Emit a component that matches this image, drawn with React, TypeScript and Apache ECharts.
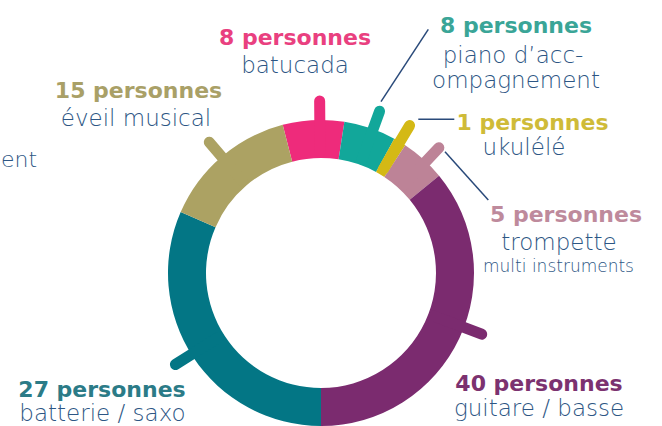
import React, { useEffect, useRef } from "react";
import * as echarts from "echarts";

// ---- data ----
const categories = [
  "batucada",
  "piano d’accompagnement",
  "ukulélé",
  "trompette",
  "guitare / basse",
  "batterie / saxo",
  "éveil musical",
];
// people counts as written on the labels
const counts = [8, 8, 1, 5, 40, 27, 15];
// share of the ring each slice takes in the picture (degrees, sums to 360)
const arcShares = [23.3, 19.8, 4.8, 17.1, 129.5, 113.5, 52];
// label name lines
const nameLines = [
  ["batucada"],
  ["piano d’acc-", "ompagnement"],
  ["ukulélé"],
  ["trompette"],
  ["guitare / basse"],
  ["batterie / saxo"],
  ["éveil musical"],
];
const subNote = "multi instruments";
const cutText = "ent";

// ---- styles ----
const sliceColors = ["#ee2b7b", "#12a79a", "#d4b915", "#bd8397", "#7b2b6f", "#037685", "#aca263"];
const countColors = ["#e9407f", "#3aa597", "#cfbb38", "#be8a9c", "#7c3270", "#2b7b87", "#a9a067"];
const NAVY = "#2d5684";
const LINE_NAVY = "#2a4a7a";
const FONT = "'DejaVu Sans', 'Noto Sans', sans-serif";

const CX = 321;
const CY = 273;
const R_IN = 115;
const R_OUT = 153;
const START = 104.5;
// small angular nudges of the decorative ticks from slice middles (degrees)
const tickNudge = [2.4, 1.2, 0, 1.3, -4.4, 1.1, 0];

// label anchors (center x, middle y) for count line, then name lines
const labelPos = [
  { c: [295, 37.4], n: [[295, 65]] },
  { c: [516, 25.4], n: [[513, 55], [516, 80]] },
  { c: [532.5, 122.4], n: [[524, 147]] },
  { c: [566, 214.4], n: [[559, 242]] },
  { c: [539, 383.4], n: [[539, 408]] },
  { c: [102, 389.4], n: [[102.5, 413]] },
  { c: [138.5, 90.4], n: [[136, 118]] },
];

export default function App() {
  const ref = useRef<HTMLDivElement>(null);

  useEffect(() => {
    if (!ref.current) return;
    const chart = echarts.init(ref.current, undefined, { renderer: "svg" });

    // mid angles of slices in ring degrees
    let acc = 0;
    const mids = arcShares.map((s) => {
      const m = acc + s / 2;
      acc += s;
      return m;
    });

    const graphics: any[] = [];
    categories.forEach((_, i) => {
      const p = labelPos[i];
      graphics.push({
        type: "text",
        x: p.c[0],
        y: p.c[1],
        silent: true,
        style: {
          text: `${counts[i]} personnes`,
          fill: countColors[i],
          fontFamily: FONT,
          fontWeight: "bold",
          fontSize: 22,
          align: "center",
          verticalAlign: "middle",
        },
      });
      nameLines[i].forEach((t, j) => {
        graphics.push({
          type: "text",
          x: p.n[j][0],
          y: p.n[j][1],
          silent: true,
          style: {
            text: t,
            fill: NAVY,
            fontFamily: FONT,
            fontWeight: 200,
            fontSize: 23,
            align: "center",
            verticalAlign: "middle",
          },
        });
      });
    });
    graphics.push({
      type: "text",
      x: 558.5,
      y: 266,
      silent: true,
      style: {
        text: subNote,
        fill: NAVY,
        fontFamily: FONT,
        fontWeight: 200,
        fontSize: 17,
        align: "center",
        verticalAlign: "middle",
      },
    });
    graphics.push({
      type: "text",
      x: 1,
      y: 159,
      silent: true,
      style: {
        text: cutText,
        fill: NAVY,
        fontFamily: FONT,
        fontWeight: 200,
        fontSize: 22,
        align: "left",
        verticalAlign: "middle",
      },
    });
    const leaders = [
      [381, 101.7, 428.3, 29.3],
      [418.3, 119.3, 454.3, 119.3],
      [445, 151.7, 488.3, 200],
    ];
    leaders.forEach((l) =>
      graphics.push({
        type: "line",
        silent: true,
        shape: { x1: l[0], y1: l[1], x2: l[2], y2: l[3] },
        style: { stroke: LINE_NAVY, lineWidth: 1.5 },
      })
    );

    chart.setOption({
      animation: false,
      backgroundColor: "#ffffff",
      polar: { center: [CX, CY], radius: R_OUT },
      angleAxis: {
        type: "value",
        min: 0,
        max: 360,
        startAngle: START,
        clockwise: true,
        show: false,
      },
      radiusAxis: { type: "value", min: 0, max: R_OUT, show: false },
      graphic: graphics,
      series: [
        {
          type: "pie",
          center: [CX, CY],
          radius: [R_IN, R_OUT],
          startAngle: START,
          clockwise: true,
          silent: true,
          avoidLabelOverlap: false,
          label: { show: false },
          labelLine: { show: false },
          itemStyle: { borderWidth: 0 },
          data: categories.map((c, i) => ({
            name: c,
            value: arcShares[i],
            itemStyle: { color: sliceColors[i] },
          })),
        },
        {
          type: "custom",
          coordinateSystem: "polar",
          silent: true,
          z: 5,
          data: mids.map((m, i) => [R_OUT, m, i]),
          renderItem: (params: any, api: any) => {
            const i = api.value(2);
            const a = api.value(1) + tickNudge[i];
            const p1 = api.coord([R_IN + 6, a]);
            const p2 = api.coord([172, a]);
            return {
              type: "line",
              shape: { x1: p1[0], y1: p1[1], x2: p2[0], y2: p2[1] },
              style: { stroke: sliceColors[i], lineWidth: 11, lineCap: "round" },
            };
          },
        },
      ],
    });

    return () => chart.dispose();
  }, []);

  return (
    <div
      ref={ref}
      style={{ position: "absolute", left: 0, top: 0, width: 662, height: 426 }}
    />
  );
}
